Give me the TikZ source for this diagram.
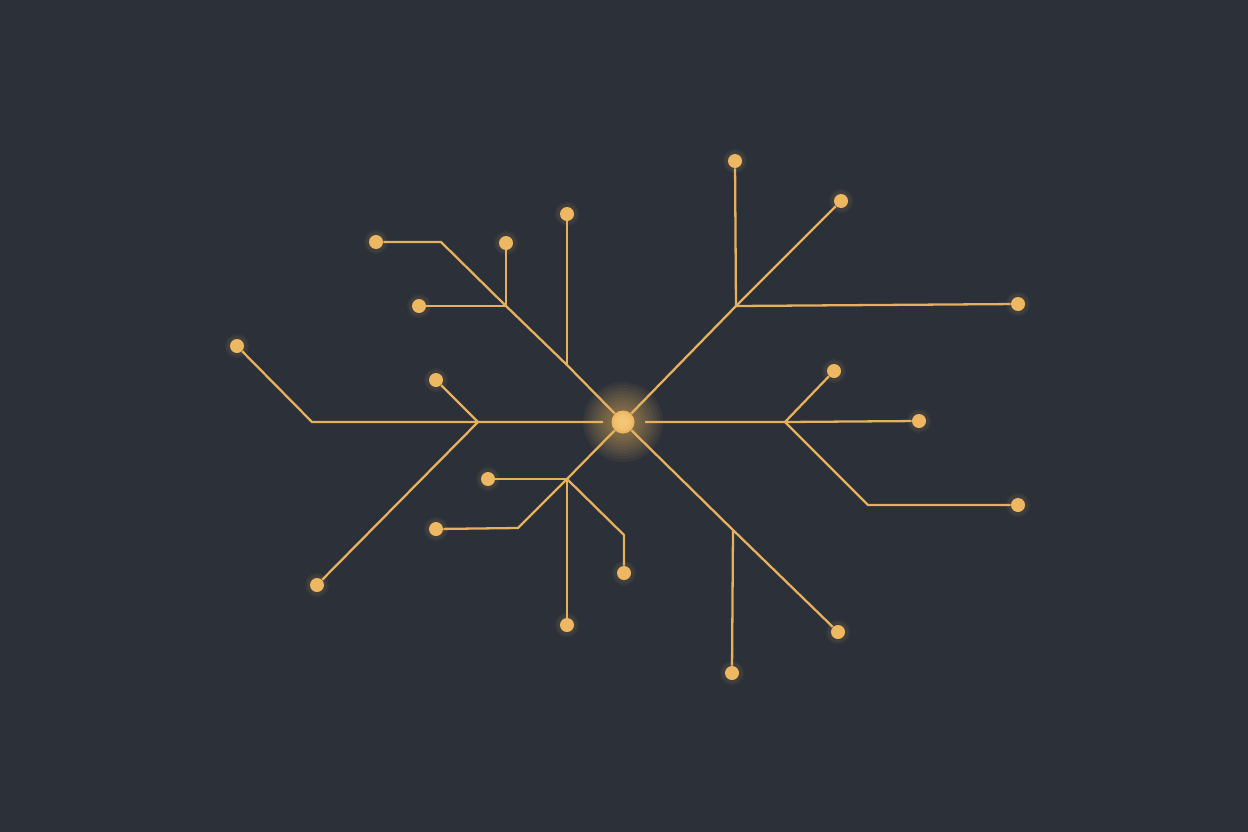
\documentclass[tikz,border=0pt]{standalone}
\usepackage{tikz}
\usetikzlibrary{calc}

\definecolor{bgdark}{HTML}{2B3039}
\definecolor{wire}{HTML}{E6B15E}
\definecolor{pin}{HTML}{EEB862}
\definecolor{hubcore}{HTML}{F6CC80}

\tikzset{
    trace/.style={draw=wire, line width=1.3pt, line join=miter},
    pindot/.style={circle, fill=pin, inner sep=0pt, minimum size=0.28cm},
    halo/.style={fill=pin, fill opacity=0.06}
}

\begin{document}
\begin{tikzpicture}[x=0.02cm, y=-0.02cm]
            % background
            \fill[bgdark] (0,0) rectangle (1248,832);
            \useasboundingbox (0,0) rectangle (1248,832);

            % hub glow
            \foreach \r in {40,37,...,13}
                \fill[halo] (623,422) circle (\r);

            % junctions
            \coordinate (hubW) at (603,422);
            \coordinate (hubE) at (645,422);
            \coordinate (jUL) at (567,365);
            \coordinate (jUL2) at (506,306);
            \coordinate (kUL) at (441,242);
            \coordinate (jUR) at (736,306);
            \coordinate (jL) at (478,422);
            \coordinate (kL) at (312,422);
            \coordinate (jLL) at (567,479);
            \coordinate (kLL) at (518,528);
            \coordinate (kLR) at (624,535);
            \coordinate (jLR) at (733,530);
            \coordinate (jR) at (785,422);
            \coordinate (kR) at (868,505);

            % end points
            \foreach \name/\x/\y in {a/376/242, b/419/306, c/506/243, d/567/214, e/735/161, f/841/201,
                g/1018/304, h/237/346, i/436/380, j/317/585, k/488/479, l/436/529, m/567/625,
                n/624/573, o/732/673, p/838/632, q/834/371, r/919/421, s/1018/505}
            {
                \fill[halo] (\x,\y) circle (12);
                \fill[halo] (\x,\y) circle (10);
                \node[pindot] (\name) at (\x,\y) {};
            }

            \node[circle, fill=pin, inner sep=0pt, minimum size=0.46cm] (hub) at (623,422) {};
            \foreach \r in {9,7,5}
                \fill[hubcore, fill opacity=0.35] (hub.center) circle (\r);

            % upper left branch
            \draw[trace] (hub) -- (jUL) -- (jUL2) -- (kUL) -- (a);
            \draw[trace] (jUL) -- (d);
            \draw[trace] (jUL2) -- (c);
            \draw[trace] (jUL2) -- (b);

            % upper right branch
            \draw[trace] (hub) -- (jUR) -- (f);
            \draw[trace] (jUR) -- (e);
            \draw[trace] (jUR) -- (g);

            % left branch
            \draw[trace] (hubW) -- (jL) -- (kL) -- (h);
            \draw[trace] (jL) -- (i);
            \draw[trace] (jL) -- (j);

            % lower left branch
            \draw[trace] (hub) -- (jLL);
            \draw[trace] (jLL) -- (k);
            \draw[trace] (jLL) -- (kLL) -- (l);
            \draw[trace] (jLL) -- (m);
            \draw[trace] (jLL) -- (kLR) -- (n);

            % lower right branch
            \draw[trace] (hub) -- (jLR) -- (p);
            \draw[trace] (jLR) -- (o);

            % right branch
            \draw[trace] (hubE) -- (jR) -- (r);
            \draw[trace] (jR) -- (q);
            \draw[trace] (jR) -- (kR) -- (s);
        \end{tikzpicture}
\end{document}
